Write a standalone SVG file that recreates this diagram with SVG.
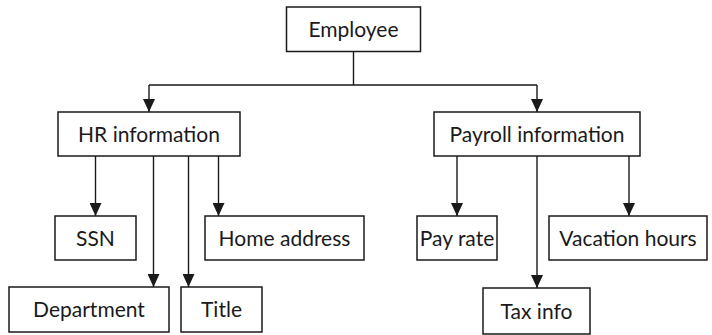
<svg xmlns="http://www.w3.org/2000/svg" width="712" height="335" viewBox="0 0 712 335">
<style>
.box{fill:#fff;stroke:#1a1a1a;stroke-width:1.5}
.lbl{font-family:"Lato","Open Sans",sans-serif;font-size:21px;fill:#1a1a1a;text-anchor:middle}
.con{fill:none;stroke:#1a1a1a;stroke-width:1.4}
</style>
<defs>
<marker id="arr" markerUnits="userSpaceOnUse" markerWidth="13" markerHeight="12" refX="13" refY="6" orient="auto">
<path d="M0,0 L13,6 L0,12 z" fill="#1a1a1a"/>
</marker>
</defs>
<g id="connectors">
<path class="con" d="M353.5,51.5 V85 M149,85 H537"/>
<path class="con" d="M149,85 V112" marker-end="url(#arr)"/>
<path class="con" d="M537,85 V112" marker-end="url(#arr)"/>
<path class="con" d="M95.5,156 V216" marker-end="url(#arr)"/>
<path class="con" d="M153.5,156 V287" marker-end="url(#arr)"/>
<path class="con" d="M188.5,156 V287" marker-end="url(#arr)"/>
<path class="con" d="M218.5,156 V216" marker-end="url(#arr)"/>
<path class="con" d="M457,156 V216" marker-end="url(#arr)"/>
<path class="con" d="M537,156 V288" marker-end="url(#arr)"/>
<path class="con" d="M629,156 V216" marker-end="url(#arr)"/>
</g>
<g id="employee"><rect class="box" x="286.5" y="7" width="134" height="44.5"/><text class="lbl" x="353.5" y="36.5">Employee</text></g>
<g id="hr"><rect class="box" x="58" y="112" width="182" height="44"/><text class="lbl" x="149" y="141.5">HR information</text></g>
<g id="payroll"><rect class="box" x="434" y="112" width="206" height="44"/><text class="lbl" x="537" y="141.5">Payroll information</text></g>
<g id="ssn"><rect class="box" x="55" y="216" width="81" height="44"/><text class="lbl" x="95.5" y="245.5">SSN</text></g>
<g id="home"><rect class="box" x="205" y="216" width="159" height="44"/><text class="lbl" x="284.5" y="245.5">Home address</text></g>
<g id="department"><rect class="box" x="9" y="287" width="160" height="45"/><text class="lbl" x="89" y="316.5">Department</text></g>
<g id="title"><rect class="box" x="181" y="287" width="81" height="45"/><text class="lbl" x="221.5" y="316.5">Title</text></g>
<g id="payrate"><rect class="box" x="417" y="216" width="80" height="44"/><text class="lbl" x="457" y="245.5">Pay rate</text></g>
<g id="vacation"><rect class="box" x="549" y="216" width="158" height="44"/><text class="lbl" x="628" y="245.5">Vacation hours</text></g>
<g id="tax"><rect class="box" x="483" y="288" width="107" height="46"/><text class="lbl" x="536.5" y="318.5">Tax info</text></g>
</svg>
